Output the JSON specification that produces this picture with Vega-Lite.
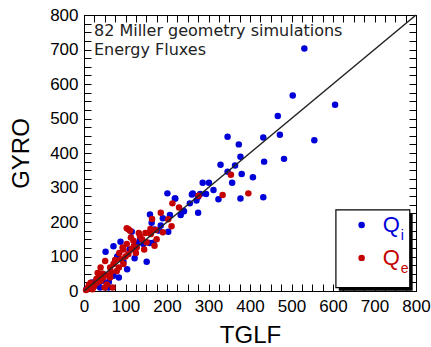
{
  "$schema": "https://vega.github.io/schema/vega-lite/v6.json",
  "width": 332,
  "height": 276,
  "autosize": {"type": "none"},
  "padding": {"left": 84, "top": 15, "right": 15, "bottom": 56},
  "background": "white",
  "config": {
    "view": {"stroke": "black", "strokeWidth": 1},
    "font": "Liberation Sans",
    "axis": {
      "domainColor": "black",
      "tickColor": "black",
      "tickWidth": 1,
      "tickSize": -7,
      "labelColor": "black",
      "titleColor": "black",
      "labelFont": "Liberation Sans",
      "titleFont": "Liberation Sans",
      "labelFontSize": 17,
      "titleFontSize": 24,
      "titleFontWeight": "normal",
      "grid": false,
      "labelOverlap": false,
      "labelFlush": false,
      "ticks": true
    }
  },
  "datasets": {
    "pts": [
      {"tglf": 531, "gyro": 703, "species": "Qi"},
      {"tglf": 503, "gyro": 567, "species": "Qi"},
      {"tglf": 605, "gyro": 540, "species": "Qi"},
      {"tglf": 467, "gyro": 507, "species": "Qi"},
      {"tglf": 472, "gyro": 453, "species": "Qi"},
      {"tglf": 346, "gyro": 447, "species": "Qi"},
      {"tglf": 432, "gyro": 445, "species": "Qi"},
      {"tglf": 373, "gyro": 425, "species": "Qi"},
      {"tglf": 555, "gyro": 437, "species": "Qi"},
      {"tglf": 377, "gyro": 389, "species": "Qi"},
      {"tglf": 434, "gyro": 375, "species": "Qi"},
      {"tglf": 482, "gyro": 383, "species": "Qi"},
      {"tglf": 329, "gyro": 366, "species": "Qi"},
      {"tglf": 364, "gyro": 364, "species": "Qi"},
      {"tglf": 346, "gyro": 346, "species": "Qi"},
      {"tglf": 380, "gyro": 339, "species": "Qi"},
      {"tglf": 357, "gyro": 314, "species": "Qi"},
      {"tglf": 407, "gyro": 330, "species": "Qi"},
      {"tglf": 286, "gyro": 314, "species": "Qi"},
      {"tglf": 301, "gyro": 314, "species": "Qi"},
      {"tglf": 312, "gyro": 293, "species": "Qi"},
      {"tglf": 294, "gyro": 281, "species": "Qi"},
      {"tglf": 262, "gyro": 283, "species": "Qi"},
      {"tglf": 324, "gyro": 266, "species": "Qi"},
      {"tglf": 377, "gyro": 268, "species": "Qi"},
      {"tglf": 432, "gyro": 272, "species": "Qi"},
      {"tglf": 280, "gyro": 281, "species": "Qi"},
      {"tglf": 255, "gyro": 254, "species": "Qi"},
      {"tglf": 275, "gyro": 273, "species": "Qi"},
      {"tglf": 275, "gyro": 227, "species": "Qi"},
      {"tglf": 239, "gyro": 232, "species": "Qi"},
      {"tglf": 233, "gyro": 220, "species": "Qi"},
      {"tglf": 207, "gyro": 220, "species": "Qi"},
      {"tglf": 219, "gyro": 268, "species": "Qi"},
      {"tglf": 201, "gyro": 283, "species": "Qi"},
      {"tglf": 159, "gyro": 222, "species": "Qi"},
      {"tglf": 163, "gyro": 198, "species": "Qi"},
      {"tglf": 203, "gyro": 172, "species": "Qi"},
      {"tglf": 181, "gyro": 175, "species": "Qi"},
      {"tglf": 170, "gyro": 178, "species": "Qi"},
      {"tglf": 167, "gyro": 140, "species": "Qi"},
      {"tglf": 115, "gyro": 172, "species": "Qi"},
      {"tglf": 88, "gyro": 143, "species": "Qi"},
      {"tglf": 52, "gyro": 114, "species": "Qi"},
      {"tglf": 71, "gyro": 130, "species": "Qi"},
      {"tglf": 122, "gyro": 95, "species": "Qi"},
      {"tglf": 151, "gyro": 85, "species": "Qi"},
      {"tglf": 80, "gyro": 100, "species": "Qi"},
      {"tglf": 104, "gyro": 63, "species": "Qi"},
      {"tglf": 60, "gyro": 27, "species": "Qi"},
      {"tglf": 46, "gyro": 49, "species": "Qi"},
      {"tglf": 27, "gyro": 21, "species": "Qi"},
      {"tglf": 71, "gyro": 44, "species": "Qi"},
      {"tglf": 84, "gyro": 39, "species": "Qi"},
      {"tglf": 39, "gyro": 10, "species": "Qi"},
      {"tglf": 6, "gyro": 5, "species": "Qi"},
      {"tglf": 59, "gyro": 10, "species": "Qi"},
      {"tglf": 31, "gyro": 34, "species": "Qi"},
      {"tglf": 143, "gyro": 136, "species": "Qi"},
      {"tglf": 127, "gyro": 138, "species": "Qi"},
      {"tglf": 158, "gyro": 139, "species": "Qi"},
      {"tglf": 190, "gyro": 211, "species": "Qi"},
      {"tglf": 220, "gyro": 268, "species": "Qi"},
      {"tglf": 241, "gyro": 231, "species": "Qi"},
      {"tglf": 260, "gyro": 280, "species": "Qi"},
      {"tglf": 271, "gyro": 262, "species": "Qi"},
      {"tglf": 15, "gyro": 12, "species": "Qi"},
      {"tglf": 20, "gyro": 25, "species": "Qi"},
      {"tglf": 45, "gyro": 30, "species": "Qi"},
      {"tglf": 35, "gyro": 15, "species": "Qi"},
      {"tglf": 95, "gyro": 85, "species": "Qi"},
      {"tglf": 110, "gyro": 120, "species": "Qi"},
      {"tglf": 135, "gyro": 150, "species": "Qi"},
      {"tglf": 185, "gyro": 190, "species": "Qi"},
      {"tglf": 354, "gyro": 337, "species": "Qe"},
      {"tglf": 334, "gyro": 278, "species": "Qe"},
      {"tglf": 396, "gyro": 283, "species": "Qe"},
      {"tglf": 276, "gyro": 276, "species": "Qe"},
      {"tglf": 213, "gyro": 254, "species": "Qe"},
      {"tglf": 229, "gyro": 242, "species": "Qe"},
      {"tglf": 185, "gyro": 227, "species": "Qe"},
      {"tglf": 203, "gyro": 208, "species": "Qe"},
      {"tglf": 211, "gyro": 188, "species": "Qe"},
      {"tglf": 164, "gyro": 209, "species": "Qe"},
      {"tglf": 173, "gyro": 177, "species": "Qe"},
      {"tglf": 170, "gyro": 131, "species": "Qe"},
      {"tglf": 161, "gyro": 165, "species": "Qe"},
      {"tglf": 148, "gyro": 168, "species": "Qe"},
      {"tglf": 132, "gyro": 168, "species": "Qe"},
      {"tglf": 135, "gyro": 158, "species": "Qe"},
      {"tglf": 107, "gyro": 179, "species": "Qe"},
      {"tglf": 111, "gyro": 175, "species": "Qe"},
      {"tglf": 113, "gyro": 155, "species": "Qe"},
      {"tglf": 119, "gyro": 146, "species": "Qe"},
      {"tglf": 93, "gyro": 126, "species": "Qe"},
      {"tglf": 103, "gyro": 136, "species": "Qe"},
      {"tglf": 89, "gyro": 92, "species": "Qe"},
      {"tglf": 84, "gyro": 68, "species": "Qe"},
      {"tglf": 71, "gyro": 78, "species": "Qe"},
      {"tglf": 63, "gyro": 68, "species": "Qe"},
      {"tglf": 51, "gyro": 87, "species": "Qe"},
      {"tglf": 40, "gyro": 68, "species": "Qe"},
      {"tglf": 46, "gyro": 39, "species": "Qe"},
      {"tglf": 55, "gyro": 19, "species": "Qe"},
      {"tglf": 31, "gyro": 24, "species": "Qe"},
      {"tglf": 16, "gyro": 24, "species": "Qe"},
      {"tglf": 22, "gyro": 10, "species": "Qe"},
      {"tglf": 10, "gyro": 10, "species": "Qe"},
      {"tglf": 69, "gyro": 10, "species": "Qe"},
      {"tglf": 63, "gyro": 39, "species": "Qe"},
      {"tglf": 37, "gyro": 41, "species": "Qe"},
      {"tglf": 79, "gyro": 58, "species": "Qe"},
      {"tglf": 95, "gyro": 78, "species": "Qe"},
      {"tglf": 107, "gyro": 107, "species": "Qe"},
      {"tglf": 115, "gyro": 121, "species": "Qe"},
      {"tglf": 127, "gyro": 126, "species": "Qe"},
      {"tglf": 151, "gyro": 141, "species": "Qe"},
      {"tglf": 103, "gyro": 182, "species": "Qe"},
      {"tglf": 5, "gyro": 3, "species": "Qe"},
      {"tglf": 12, "gyro": 18, "species": "Qe"},
      {"tglf": 25, "gyro": 15, "species": "Qe"},
      {"tglf": 30, "gyro": 35, "species": "Qe"},
      {"tglf": 45, "gyro": 50, "species": "Qe"},
      {"tglf": 58, "gyro": 45, "species": "Qe"},
      {"tglf": 65, "gyro": 55, "species": "Qe"},
      {"tglf": 75, "gyro": 90, "species": "Qe"},
      {"tglf": 85, "gyro": 110, "species": "Qe"},
      {"tglf": 100, "gyro": 100, "species": "Qe"},
      {"tglf": 120, "gyro": 130, "species": "Qe"},
      {"tglf": 140, "gyro": 150, "species": "Qe"},
      {"tglf": 160, "gyro": 180, "species": "Qe"},
      {"tglf": 175, "gyro": 150, "species": "Qe"},
      {"tglf": 190, "gyro": 170, "species": "Qe"},
      {"tglf": 145, "gyro": 120, "species": "Qe"},
      {"tglf": 125, "gyro": 110, "species": "Qe"},
      {"tglf": 95, "gyro": 120, "species": "Qe"},
      {"tglf": 20, "gyro": 5, "species": "Qe"},
      {"tglf": 40, "gyro": 30, "species": "Qe"},
      {"tglf": 50, "gyro": 10, "species": "Qe"},
      {"tglf": 33, "gyro": 52, "species": "Qe"}
    ],
    "one": [{}]
  },
  "layer": [
    {
      "data": {"name": "pts"},
      "mark": {"type": "circle", "size": 42, "opacity": 1},
      "encoding": {
        "x": {
          "field": "tglf", "type": "quantitative",
          "scale": {"domain": [0, 800], "nice": false},
          "axis": {
            "orient": "bottom", "title": "TGLF", "titlePadding": 9,
            "values": [0,25,50,75,100,125,150,175,200,225,250,275,300,325,350,375,400,425,450,475,500,525,550,575,600,625,650,675,700,725,750,775,800],
            "labelExpr": "datum.value % 100 === 0 ? datum.label : ''",
            "labelPadding": 14,
            "encode": {"ticks": {"update": {"y2": {"signal": "datum.value % 100 === 0 ? -7 : -4"}}}}
          }
        },
        "y": {
          "field": "gyro", "type": "quantitative",
          "scale": {"domain": [0, 800], "nice": false},
          "axis": {
            "orient": "left", "title": "GYRO", "titlePadding": 16,
            "values": [0,25,50,75,100,125,150,175,200,225,250,275,300,325,350,375,400,425,450,475,500,525,550,575,600,625,650,675,700,725,750,775,800],
            "labelExpr": "datum.value % 100 === 0 ? datum.label : ''",
            "labelPadding": 13,
            "encode": {"ticks": {"update": {"x2": {"signal": "datum.value % 100 === 0 ? 7 : 4"}}}}
          }
        },
        "color": {
          "field": "species", "type": "nominal",
          "scale": {"domain": ["Qi", "Qe"], "range": ["#0000d8", "#c40000"]},
          "legend": null
        }
      }
    },
    {
      "data": {"name": "one"},
      "mark": {"type": "rule", "color": "#222222", "strokeWidth": 1.5},
      "encoding": {
        "x": {
          "datum": 0, "type": "quantitative",
          "axis": {
            "orient": "top", "title": null, "labels": false, "domain": true,
            "values": [0,25,50,75,100,125,150,175,200,225,250,275,300,325,350,375,400,425,450,475,500,525,550,575,600,625,650,675,700,725,750,775,800],
            "encode": {"ticks": {"update": {"y2": {"signal": "datum.value % 100 === 0 ? 7 : 4"}}}}
          }
        },
        "y": {
          "datum": 0, "type": "quantitative",
          "axis": {
            "orient": "right", "title": null, "labels": false, "domain": true,
            "values": [0,25,50,75,100,125,150,175,200,225,250,275,300,325,350,375,400,425,450,475,500,525,550,575,600,625,650,675,700,725,750,775,800],
            "encode": {"ticks": {"update": {"x2": {"signal": "datum.value % 100 === 0 ? -7 : -4"}}}}
          }
        },
        "x2": {"datum": 800},
        "y2": {"datum": 800}
      }
    },
    {
      "data": {"name": "one"},
      "mark": {"type": "text", "align": "left", "baseline": "middle", "fontSize": 16, "color": "#222222", "font": "DejaVu Sans"},
      "encoding": {
        "x": {"datum": 24, "type": "quantitative", "axis": null},
        "y": {"datum": 753, "type": "quantitative", "axis": null},
        "text": {"value": "82 Miller geometry simulations"}
      }
    },
    {
      "data": {"name": "one"},
      "mark": {"type": "text", "align": "left", "baseline": "middle", "fontSize": 16, "color": "#222222", "font": "DejaVu Sans"},
      "encoding": {
        "x": {"datum": 24, "type": "quantitative", "axis": null},
        "y": {"datum": 700, "type": "quantitative", "axis": null},
        "text": {"value": "Energy Fluxes"}
      }
    },
    {
      "data": {"name": "one"},
      "mark": {"type": "rect", "fill": "black"},
      "encoding": {
        "x": {"datum": 614, "type": "quantitative", "axis": null},
        "x2": {"datum": 792},
        "y": {"datum": 226, "type": "quantitative", "axis": null},
        "y2": {"datum": 1}
      }
    },
    {
      "data": {"name": "one"},
      "mark": {"type": "rect", "fill": "white", "stroke": "black", "strokeWidth": 1.2},
      "encoding": {
        "x": {"datum": 607, "type": "quantitative", "axis": null},
        "x2": {"datum": 785},
        "y": {"datum": 235, "type": "quantitative", "axis": null},
        "y2": {"datum": 10}
      }
    },
    {
      "data": {"name": "one"},
      "mark": {"type": "circle", "size": 42, "opacity": 1, "color": "#0000d8"},
      "encoding": {
        "x": {"datum": 669, "type": "quantitative", "axis": null},
        "y": {"datum": 191, "type": "quantitative", "axis": null}
      }
    },
    {
      "data": {"name": "one"},
      "mark": {"type": "circle", "size": 42, "opacity": 1, "color": "#c40000"},
      "encoding": {
        "x": {"datum": 669, "type": "quantitative", "axis": null},
        "y": {"datum": 96, "type": "quantitative", "axis": null}
      }
    },
    {
      "data": {"name": "one"},
      "mark": {"type": "text", "align": "left", "baseline": "middle", "fontSize": 22, "color": "#0000d8", "font": "Liberation Sans"},
      "encoding": {
        "x": {"datum": 720, "type": "quantitative", "axis": null},
        "y": {"datum": 191, "type": "quantitative", "axis": null},
        "text": {"value": "Q"}
      }
    },
    {
      "data": {"name": "one"},
      "mark": {"type": "text", "align": "left", "baseline": "middle", "fontSize": 14, "color": "#0000d8", "font": "Liberation Sans"},
      "encoding": {
        "x": {"datum": 763, "type": "quantitative", "axis": null},
        "y": {"datum": 160, "type": "quantitative", "axis": null},
        "text": {"value": "i"}
      }
    },
    {
      "data": {"name": "one"},
      "mark": {"type": "text", "align": "left", "baseline": "middle", "fontSize": 22, "color": "#c40000", "font": "Liberation Sans"},
      "encoding": {
        "x": {"datum": 720, "type": "quantitative", "axis": null},
        "y": {"datum": 96, "type": "quantitative", "axis": null},
        "text": {"value": "Q"}
      }
    },
    {
      "data": {"name": "one"},
      "mark": {"type": "text", "align": "left", "baseline": "middle", "fontSize": 14, "color": "#c40000", "font": "Liberation Sans"},
      "encoding": {
        "x": {"datum": 763, "type": "quantitative", "axis": null},
        "y": {"datum": 65, "type": "quantitative", "axis": null},
        "text": {"value": "e"}
      }
    }
  ],
  "resolve": {"axis": {"x": "independent", "y": "independent"}}
}
